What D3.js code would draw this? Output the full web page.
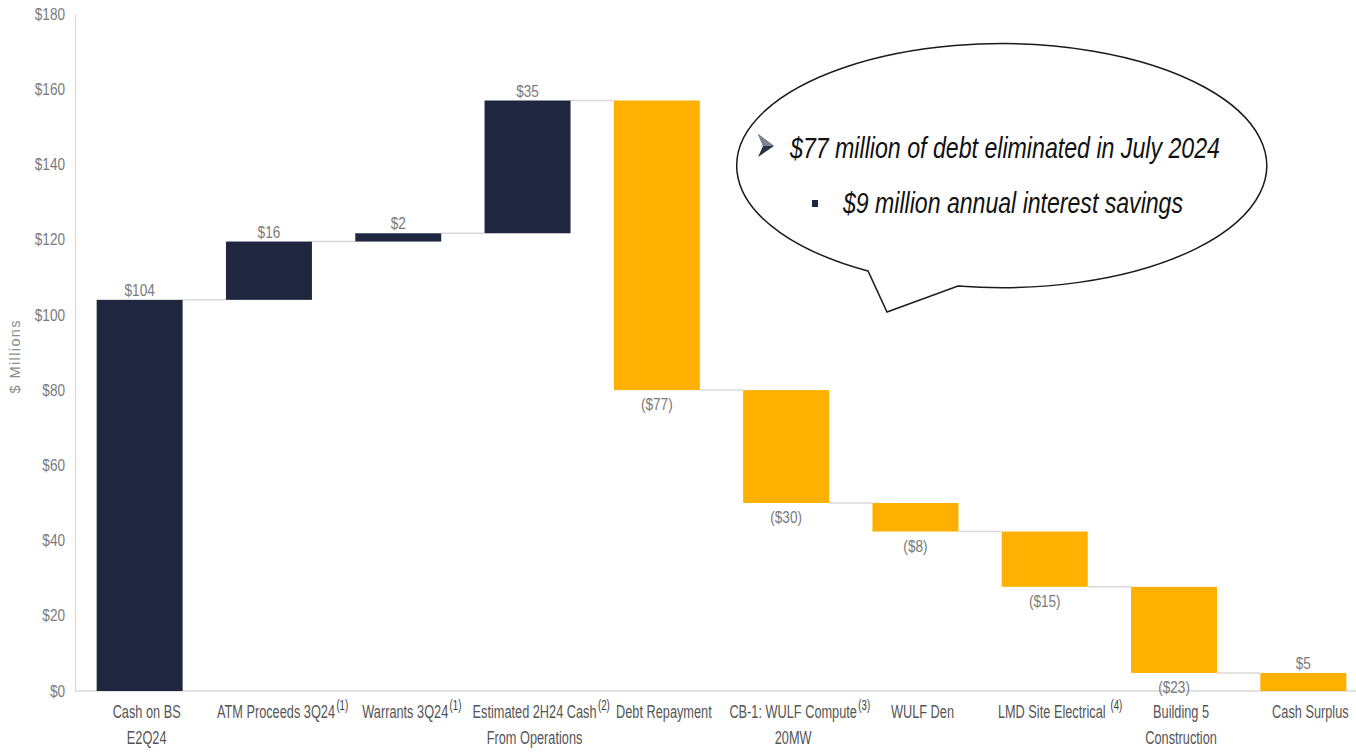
<!DOCTYPE html>
<html>
<head>
<meta charset="utf-8">
<script src="https://cdn.jsdelivr.net/npm/d3@7"></script>
<style>
  body { margin: 0; background: #fff; }
  svg { display: block; }
</style>
</head>
<body>
<div id="chart"></div>
<script>
// waterfall data ($ millions)
const categories = [
  ["Cash on BS", "E2Q24"],
  ["ATM Proceeds 3Q24"],
  ["Warrants 3Q24"],
  ["Estimated 2H24 Cash", "From Operations"],
  ["Debt Repayment"],
  ["CB-1: WULF Compute", "20MW"],
  ["WULF Den"],
  ["LMD Site Electrical"],
  ["Building 5", "Construction"],
  ["Cash Surplus"]
];
const footnotes = ["", "(1)", "(1)", "(2)", "", "(3)", "", "(4)", "", ""];
const amounts = [104, 15.5, 2.2, 35.3, -77, -30, -7.6, -14.7, -22.9, null]; // null = total
const yTicks = [0, 20, 40, 60, 80, 100, 120, 140, 160, 180];
const calloutLines = [
  "$77 million of debt eliminated in July 2024",
  "$9 million annual interest savings"
];

const width = 1356, height = 753;
const navy = "#1f2640", amber = "#ffb000";
const lineGrey = "#d9d9d9";
const sans = "'Liberation Sans', Arial, sans-serif";

// running totals
let run = 0;
const bars = amounts.map((v, i) => {
  if (v === null) return { i, start: 0, end: run, value: run };
  if (i === 0) { run = v; return { i, start: 0, end: v, value: v }; }
  const b = { i, start: run, end: run + v, value: v };
  run += v;
  return b;
});

const svg = d3.select("#chart").append("svg")
  .attr("width", width).attr("height", height);

const x = d3.scaleBand()
  .domain(d3.range(categories.length))
  .range([75, 1368])
  .paddingInner(0.335)
  .paddingOuter(0.1675);

const y = d3.scaleLinear().domain([0, 180]).range([691, 14]);

// y axis
const yAxis = svg.append("g")
  .attr("transform", "translate(75,0)")
  .call(d3.axisLeft(y).tickValues(yTicks).tickSize(0).tickFormat(d => "$" + d));
yAxis.select(".domain").attr("stroke", lineGrey).attr("stroke-width", 1.2);
yAxis.selectAll("text")
  .attr("x", 0)
  .attr("transform", "translate(-10,0) scale(0.85,1)")
  .attr("fill", "#7a7a7a")
  .style("font-family", sans)
  .style("font-size", "16px");

svg.append("text")
  .attr("transform", `translate(20,${y(89)}) rotate(-90)`)
  .attr("text-anchor", "middle")
  .attr("fill", "#8c8c8c")
  .style("font-family", sans)
  .style("font-size", "14.5px")
  .style("letter-spacing", "1.4px")
  .text("$ Millions");

// baseline
svg.append("line")
  .attr("x1", 75).attr("x2", width)
  .attr("y1", y(0)).attr("y2", y(0))
  .attr("stroke", lineGrey).attr("stroke-width", 1.5);

// connectors
svg.append("g").selectAll("line")
  .data(bars.slice(0, -1))
  .join("line")
  .attr("x1", d => x(d.i) + x.bandwidth())
  .attr("x2", d => x(d.i + 1))
  .attr("y1", d => y(d.end))
  .attr("y2", d => y(d.end))
  .attr("stroke", lineGrey)
  .attr("stroke-width", 1.5);

// bars
svg.append("g").selectAll("rect")
  .data(bars)
  .join("rect")
  .attr("x", d => x(d.i))
  .attr("width", x.bandwidth())
  .attr("y", d => y(Math.max(d.start, d.end)))
  .attr("height", d => Math.abs(y(d.start) - y(d.end)))
  .attr("fill", d => (d.value < 0 || d.i === bars.length - 1) ? amber : navy);

// value labels (condensed look via horizontal scale)
svg.append("g").selectAll("text")
  .data(bars)
  .join("text")
  .attr("transform", d => {
    const cx = x(d.i) + x.bandwidth() / 2;
    const ty = d.value < 0 ? y(d.end) + 20 : y(Math.max(d.start, d.end)) - 4;
    return `translate(${cx},${ty}) scale(0.8,1)`;
  })
  .attr("text-anchor", "middle")
  .attr("fill", "#7a7a7a")
  .style("font-family", sans)
  .style("font-size", "17px")
  .text(d => d.value < 0 ? `($${Math.round(-d.value)})` : `$${Math.round(d.value)}`);

// category labels
const catG = svg.append("g").selectAll("g")
  .data(categories)
  .join("g");

catG.each(function (lines, i) {
  const g = d3.select(this);
  const cx = x(i) + x.bandwidth() / 2 + 7;
  lines.forEach((ln, k) => {
    const row = g.append("g")
      .attr("transform", `translate(${cx},${718 + k * 26}) scale(0.69,1)`);
    const t = row.append("text")
      .attr("text-anchor", "middle")
      .attr("fill", "#555")
      .style("font-family", sans)
      .style("font-size", "18.5px")
      .text(ln);
    if (k === 0 && footnotes[i]) {
      const w = t.node().getComputedTextLength();
      row.append("text")
        .attr("x", w / 2 + (i === 7 ? 7 : 2))
        .attr("y", -8)
        .attr("fill", "#404040")
        .style("font-family", sans)
        .style("font-size", "14px")
        .text(footnotes[i]);
    }
  });
});

// speech bubble callout
const ell = { cx: 998, cy: 166, rx: 265, ry: 122 };
const tailL = [868, 271], tailTip = [887, 312], tailR = [958, 286];
svg.append("path")
  .attr("d", `M${tailR[0]},${tailR[1]} A${ell.rx},${ell.ry} 0 1 0 ${tailL[0]},${tailL[1]} L${tailTip[0]},${tailTip[1]} Z`)
  .attr("fill", "#fff")
  .attr("stroke", "#1a1a1a")
  .attr("stroke-width", 1.5);

// arrowhead bullet
svg.append("path")
  .attr("d", "M758,134 L774,146 L758,157 L763,146 Z")
  .attr("fill", "#2b3245");
svg.append("path")
  .attr("d", "M758,134 L774,146 L763,146 Z")
  .attr("fill", "#7d8494");

svg.append("rect")
  .attr("x", 812).attr("y", 200).attr("width", 6).attr("height", 7)
  .attr("fill", navy);

svg.append("g").selectAll("text")
  .data(calloutLines)
  .join("text")
  .attr("x", (d, i) => i === 0 ? 790 : 843)
  .attr("y", (d, i) => i === 0 ? 158 : 213)
  .attr("textLength", (d, i) => i === 0 ? 430 : 340)
  .attr("lengthAdjust", "spacingAndGlyphs")
  .attr("fill", "#111")
  .style("font-family", sans)
  .style("font-style", "italic")
  .style("font-size", "29px")
  .text(d => d);
</script>
</body>
</html>
